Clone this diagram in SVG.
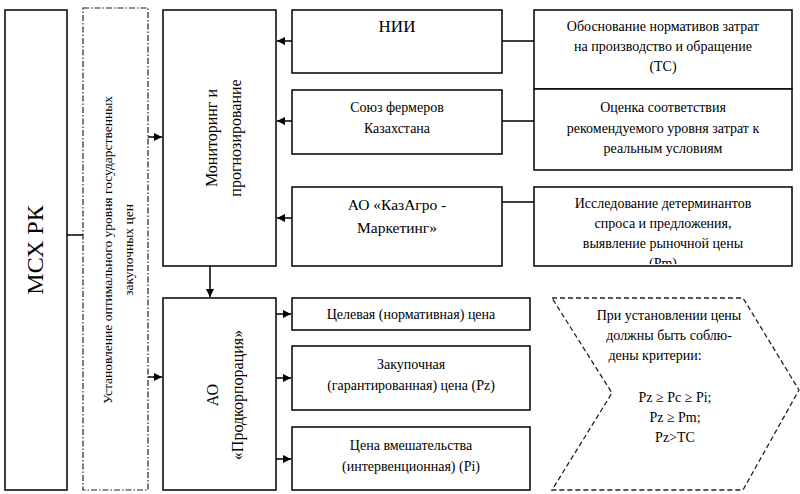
<svg xmlns="http://www.w3.org/2000/svg" width="800" height="494" viewBox="0 0 800 494" font-family="'Liberation Serif', 'Times New Roman', 'DejaVu Serif', serif">
<style>
.b{fill:#fff;stroke:#000;stroke-width:1.5}
.d{fill:none;stroke:#222;stroke-width:1.3;stroke-dasharray:5 3}
.dd{fill:none;stroke:#222;stroke-width:1.2;stroke-dasharray:6 2 1.5 2}
.l{stroke:#000;stroke-width:1.5;fill:none}
text{font-family:'Liberation Serif','Times New Roman','DejaVu Serif',serif;font-size:14px;fill:#000;text-anchor:middle}
</style>
<defs>
<marker id="a" viewBox="0 0 10 10" refX="10" refY="5" markerWidth="8" markerHeight="8" markerUnits="userSpaceOnUse" orient="auto"><path d="M0,0L10,5L0,10z" fill="#000"/></marker>
<clipPath id="c3"><rect x="534" y="187" width="258" height="77"/></clipPath>
</defs>
<rect width="800" height="494" fill="#fff"/>
<g id="connectors">
<path class="l" d="M67,235H83"/>
<path class="l" d="M148,137H162" marker-end="url(#a)"/>
<path class="l" d="M148,377H162" marker-end="url(#a)"/>
<path class="l" d="M210,266V297" marker-end="url(#a)"/>
<path class="l" d="M292,41H277" marker-end="url(#a)"/>
<path class="l" d="M292,121H277" marker-end="url(#a)"/>
<path class="l" d="M292,218H277" marker-end="url(#a)"/>
<path class="l" d="M502,41H534M502,121H534M502,202H534"/>
<path class="l" d="M276,314H291" marker-end="url(#a)"/>
<path class="l" d="M276,378H291" marker-end="url(#a)"/>
<path class="l" d="M276,459H291" marker-end="url(#a)"/>
</g>
<g id="msx"><rect class="b" x="5" y="10" width="62" height="480"/>
<text transform="translate(43,250) rotate(-90)" style="font-size:24px">МСХ РК</text></g>
<g id="ust"><rect class="dd" x="83" y="8" width="65" height="482"/>
<text transform="translate(112,250) rotate(-90)" style="font-size:13.5px">Установление оптимального уровня государственных</text>
<text transform="translate(133,250) rotate(-90)" style="font-size:13.5px">закупочных цен</text></g>
<g id="mon"><rect class="b" x="163" y="10" width="113" height="256"/>
<text transform="translate(217,138) rotate(-90)" style="font-size:16px">Мониторинг и</text>
<text transform="translate(241,138) rotate(-90)" style="font-size:16px">прогнозирование</text></g>
<g id="ao"><rect class="b" x="163" y="298" width="113" height="192"/>
<text transform="translate(218,395) rotate(-90)" style="font-size:16px">АО</text>
<text transform="translate(243,395) rotate(-90)" style="font-size:16px">«Продкорпорация»</text></g>
<g id="nii"><rect class="b" x="292" y="10" width="210" height="63"/><text x="397" y="32" style="font-size:17px">НИИ</text></g>
<g id="soyuz"><rect class="b" x="292" y="90" width="210" height="64"/><text x="397" y="112">Союз фермеров</text><text x="397" y="133">Казахстана</text></g>
<g id="kaz"><rect class="b" x="292" y="187" width="210" height="79"/><text x="397" y="210" style="font-size:15.5px">АО «КазАгро -</text><text x="397" y="233" style="font-size:15.5px">Маркетинг»</text></g>
<g id="r1"><rect class="b" x="534" y="10" width="258" height="79"/><text x="663" y="31">Обоснование нормативов затрат</text><text x="663" y="51">на производство и обращение</text><text x="663" y="71">(ТС)</text></g>
<g id="r2"><rect class="b" x="534" y="89" width="258" height="81"/><text x="663" y="112">Оценка соответствия</text><text x="663" y="133">рекомендуемого уровня затрат к</text><text x="663" y="153">реальным условиям</text></g>
<g id="r3"><rect class="b" x="534" y="187" width="258" height="79"/><g clip-path="url(#c3)"><text x="663" y="208">Исследование детерминантов</text><text x="663" y="228">спроса и предложения,</text><text x="663" y="248">выявление рыночной цены</text><text x="663" y="268">(Pm)</text></g></g>
<g id="p1"><rect class="b" x="292" y="298" width="238" height="32"/><text x="411" y="319">Целевая (нормативная) цена</text></g>
<g id="p2"><rect class="b" x="292" y="346" width="238" height="64"/><text x="411" y="369">Закупочная</text><text x="411" y="390">(гарантированная) цена (Pz)</text></g>
<g id="p3"><rect class="b" x="292" y="427" width="238" height="63"/><text x="411" y="450">Цена вмешательства</text><text x="411" y="471">(интервенционная) (Pi)</text></g>
<g id="crit"><path class="d" d="M552,298H743L799,390L743,490H552L612,393Z"/>
<text x="669" y="320">При установлении цены</text><text x="669" y="340">должны быть соблю-</text><text x="655" y="360">дены критерии:</text>
<text x="675" y="402">Pz ≥ Pc ≥ Pi;</text><text x="675" y="422">Pz ≥ Pm;</text><text x="675" y="442">Pz&gt;TC</text></g>
</svg>
